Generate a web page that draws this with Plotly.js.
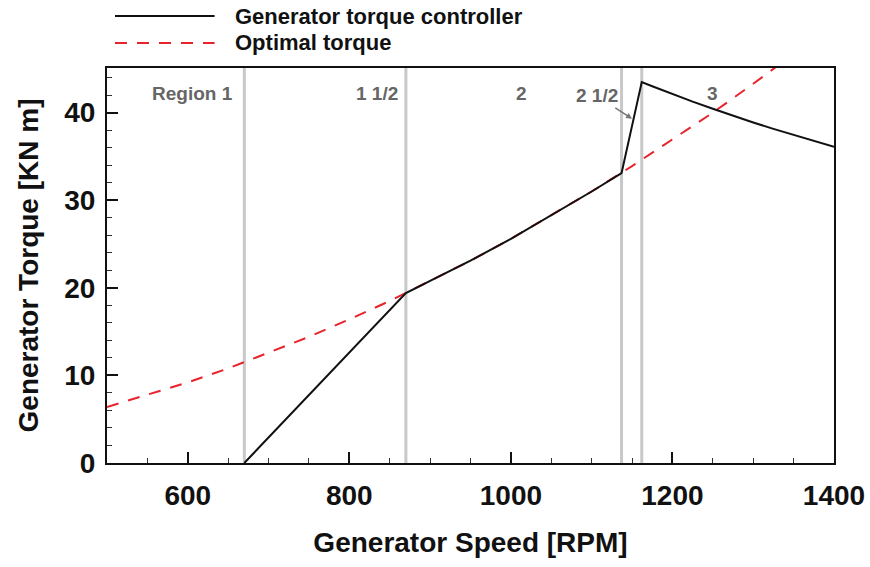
<!DOCTYPE html>
<html>
<head>
<meta charset="utf-8">
<script src="https://cdn.plot.ly/plotly-3.0.1.min.js"></script>
<style>html,body{margin:0;padding:0;background:#fff}#chart{width:870px;height:567px}</style>
</head>
<body>
<div id="chart"></div>
<script>
// Optimal torque curve
const optSpeed  = [500, 550, 600, 650, 700, 750, 800, 850, 900, 950, 1000, 1050, 1100, 1150, 1200, 1250, 1300, 1350];
const optTorque = [6.4, 7.8, 9.2, 10.8, 12.6, 14.4, 16.4, 18.5, 20.8, 23.1, 25.6, 28.3, 31.0, 33.9, 36.9, 40.0, 43.3, 46.7];

// Generator torque controller
const ctrlSpeed  = [670, 870, 900, 950, 1000, 1050, 1100, 1137, 1160, 1162, 1175, 1200, 1225, 1250, 1275, 1300, 1325, 1350, 1375, 1400];
const ctrlTorque = [0.0, 19.4, 20.8, 23.1, 25.6, 28.3, 31.0, 33.1, 42.6, 43.5, 43.02, 42.12, 41.26, 40.44, 39.64, 38.88, 38.15, 37.44, 36.76, 36.1];

// Region boundaries and labels
const regionBounds = [670, 870, 1137, 1162];
const regionLabels = ["Region 1", "1 1/2", "2", "3"];
const regionLabelX = [606, 834, 1013, 1249];
const region25Label = "2 1/2";

const seriesNames = ["Generator torque controller", "Optimal torque"];

const FONT = "Liberation Sans, Arial, sans-serif";

const traces = [
  {x: optSpeed, y: optTorque, mode: "lines", name: seriesNames[1], showlegend: false,
   line: {color: "#e8232b", width: 2, dash: "12px,10px"}},
  {x: ctrlSpeed, y: ctrlTorque, mode: "lines", name: seriesNames[0], showlegend: false,
   line: {color: "#111", width: 2, shape: "linear"}}
];

const shapes = regionBounds.map(b => ({
  type: "line", xref: "x", yref: "paper", x0: b, x1: b, y0: 0, y1: 1,
  line: {color: "#c8c8c8", width: 3}, layer: "below"
}));
// legend lines
shapes.push({type: "line", xref: "paper", yref: "paper", x0: 0.011, x1: 0.148, y0: 1.1316, y1: 1.1316,
  line: {color: "#111", width: 2}});
shapes.push({type: "line", xref: "paper", yref: "paper", x0: 0.011, x1: 0.148, y0: 1.0633, y1: 1.0633,
  line: {color: "#e8232b", width: 2, dash: "12px,10px"}});

const annotations = regionLabels.map((t, i) => ({
  text: "<b>" + t + "</b>", x: regionLabelX[i], y: 42.2, xref: "x", yref: "y",
  showarrow: false, font: {family: FONT, size: 19, color: "#666"}
}));
annotations.push({
  text: "<b>" + region25Label + "</b>", x: 1150, y: 39.3, xref: "x", yref: "y",
  ax: -35, ay: -23, showarrow: true, arrowhead: 2, arrowsize: 0.8, arrowwidth: 1.5,
  arrowcolor: "#777", font: {family: FONT, size: 19, color: "#666"}
});
annotations.push({text: "<b>" + seriesNames[0] + "</b>", xref: "paper", yref: "paper",
  x: 0.173, y: 1.1316, xanchor: "left", yanchor: "middle", showarrow: false,
  font: {family: FONT, size: 22, color: "#111"}});
annotations.push({text: "<b>" + seriesNames[1] + "</b>", xref: "paper", yref: "paper",
  x: 0.173, y: 1.0633, xanchor: "left", yanchor: "middle", showarrow: false,
  font: {family: FONT, size: 22, color: "#111"}});

const layout = {
  width: 870, height: 567,
  margin: {l: 107, r: 36, t: 68, b: 104},
  paper_bgcolor: "#fff", plot_bgcolor: "#fff",
  showlegend: false,
  xaxis: {
    range: [500, 1400], dtick: 200, tick0: 0, ticks: "inside", ticklen: 11, tickwidth: 2,
    tickcolor: "#111", showgrid: false, zeroline: false,
    showline: true, linecolor: "#111", linewidth: 2, mirror: true,
    minor: {dtick: 50, ticks: "inside", ticklen: 5, tickwidth: 1, tickcolor: "#333", showgrid: false},
    ticklabelstandoff: 6,
    tickfont: {family: FONT, size: 28, color: "#111", weight: "bold"},
    title: {text: "<b>Generator Speed [RPM]</b>", font: {family: FONT, size: 28, color: "#111"}, standoff: 23}
  },
  yaxis: {
    range: [0, 45.1], dtick: 10, ticks: "inside", ticklen: 11, tickwidth: 2,
    tickcolor: "#111", showgrid: false, zeroline: false,
    showline: true, linecolor: "#111", linewidth: 2, mirror: true,
    minor: {dtick: 2, ticks: "inside", ticklen: 5, tickwidth: 1, tickcolor: "#333", showgrid: false},
    ticklabelstandoff: 4,
    tickfont: {family: FONT, size: 28, color: "#111", weight: "bold"},
    title: {text: "<b>Generator Torque [KN m]</b>", font: {family: FONT, size: 28, color: "#111"}, standoff: 17}
  },
  shapes: shapes,
  annotations: annotations
};

Plotly.newPlot("chart", traces, layout, {displayModeBar: false, staticPlot: true});
</script>
</body>
</html>
